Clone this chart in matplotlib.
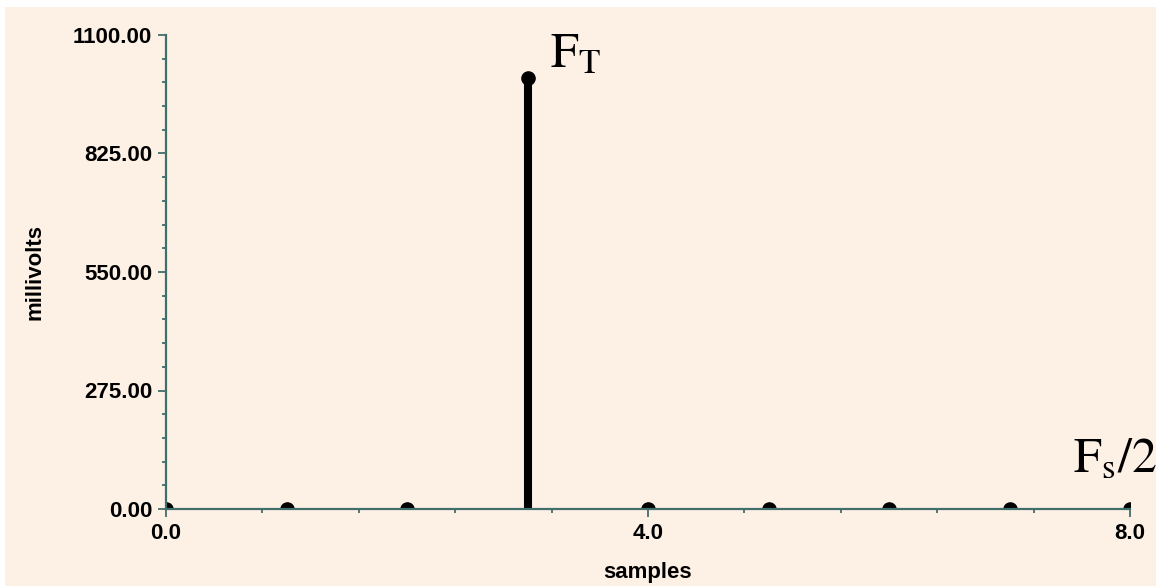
import numpy as np
import matplotlib
matplotlib.use("Agg")
import matplotlib.pyplot as plt
from matplotlib.patches import Rectangle
from matplotlib.ticker import MultipleLocator, FormatStrFormatter

# spectrum samples (millivolts), one per bin
samples = [0, 1, 2, 3, 4, 5, 6, 7, 8]
millivolts = [0, 0, 0, 1000, 0, 0, 0, 0, 0]

x_major = [0.0, 4.0, 8.0]
y_major = [0, 275, 550, 825, 1100]

BG = "#fdf1e6"
AXIS = "#3f6e6b"

plt.rcParams["font.family"] = ["Liberation Sans", "DejaVu Sans"]
plt.rcParams["mathtext.fontset"] = "stix"

fig = plt.figure(figsize=(11.56, 5.86), dpi=100)
fig.patch.set_facecolor("white")
# cream panel, leaving a thin white strip on the top and left edges
fig.add_artist(Rectangle((5 / 1156, 0), 1 - 5 / 1156, 1 - 7 / 586,
                         transform=fig.transFigure, facecolor=BG,
                         edgecolor="none", zorder=-10))

ax = fig.add_axes([166 / 1156, 77 / 586, 964 / 1156, 474 / 586])
ax.set_facecolor(BG)

ax.vlines(samples, 0, millivolts, color="black", linewidth=5.8, zorder=3)
ax.plot(samples, millivolts, "o", color="black", markersize=9.5, zorder=4)

ax.set_xlim(0, 8)
ax.set_ylim(0, 1100)

for side in ("top", "right"):
    ax.spines[side].set_visible(False)
for side in ("left", "bottom"):
    ax.spines[side].set_color(AXIS)
    ax.spines[side].set_linewidth(1.6)
    ax.spines[side].set_zorder(5)

ax.xaxis.set_major_locator(plt.FixedLocator(x_major))
ax.xaxis.set_minor_locator(MultipleLocator(0.8))
ax.yaxis.set_major_locator(plt.FixedLocator(y_major))
ax.yaxis.set_minor_locator(MultipleLocator(55))
ax.xaxis.set_major_formatter(FormatStrFormatter("%.1f"))
ax.yaxis.set_major_formatter(FormatStrFormatter("%.2f"))

ax.tick_params(which="major", direction="out", length=6, width=1.3,
               color=AXIS, pad=4, labelsize=16)
ax.tick_params(which="minor", direction="out", length=3, width=1.3,
               color=AXIS)
for lbl in ax.get_xticklabels() + ax.get_yticklabels():
    lbl.set_fontweight("bold")

ax.set_xlabel("samples", fontsize=16, fontweight="bold")
ax.set_ylabel("millivolts", fontsize=16, fontweight="bold")
ax.xaxis.set_label_coords(0.5, -0.112)
ax.yaxis.set_label_coords(-0.125, 0.5)

ax.text(3.19, 1026, r"$\mathrm{F_T}$", fontsize=36, va="baseline",
        ha="left", zorder=6)
ax.text(7.53, 86, r"$\mathrm{F_s/2}$", fontsize=36, va="baseline",
        ha="left", zorder=6)

fig.savefig("out.png", dpi=100, facecolor=fig.get_facecolor())
